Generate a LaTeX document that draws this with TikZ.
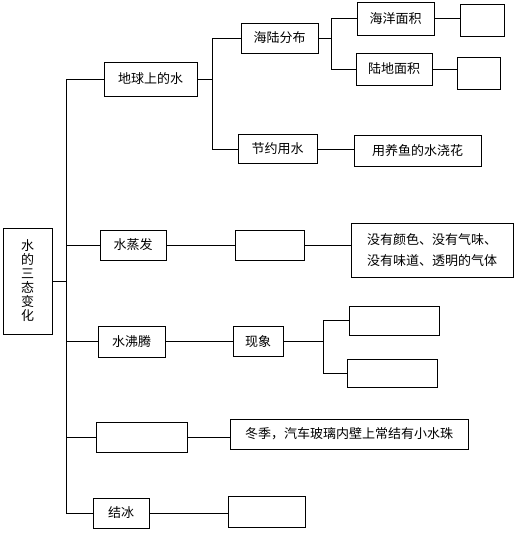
\documentclass[tikz,border=0pt]{standalone}
\usepackage{fontspec}
\setmainfont{Noto Sans CJK SC}
\begin{document}
\begin{tikzpicture}[x=1pt,y=-1pt,
  box/.style={draw, line width=0.9pt, inner sep=0pt, align=center, font=\fontsize{13}{14}\selectfont},
  link/.style={line width=0.9pt}]
\useasboundingbox (0,0) rectangle (526,545);
% level 0
\node[box, minimum width=49pt, minimum height=106pt] (main) at (27.5,281) {水\\的\\三\\态\\变\\化};
% level 1
\node[box, minimum width=93pt, minimum height=34pt] (n1) at (150.5,79) {地球上的水};
\node[box, minimum width=66pt, minimum height=30pt] (zf) at (133,245) {水蒸发};
\node[box, minimum width=67pt, minimum height=31pt] (ft) at (131.5,341.5) {水沸腾};
\node[box, minimum width=91pt, minimum height=30pt] (e6) at (141.5,437) {};
\node[box, minimum width=56pt, minimum height=30pt] (jb) at (121,513) {结冰};
% branch 1
\node[box, minimum width=77pt, minimum height=30pt] (hl) at (279.5,38) {海陆分布};
\node[box, minimum width=79pt, minimum height=29pt] (jy) at (277.5,149) {节约用水};
\node[box, minimum width=77pt, minimum height=33pt] (hy) at (395.5,18.5) {海洋面积};
\node[box, minimum width=76pt, minimum height=32pt] (ld) at (394,69) {陆地面积};
\node[box, minimum width=44pt, minimum height=32pt] (e1) at (482,20) {};
\node[box, minimum width=43pt, minimum height=32pt] (e2) at (478.5,73) {};
\node[box, minimum width=127pt, minimum height=31pt] (yy) at (417.5,150.5) {用养鱼的水浇花};
% branch 2
\node[box, minimum width=69pt, minimum height=30pt] (e3) at (269.5,245) {};
\node[box, minimum width=162pt, minimum height=54pt, align=left, font=\fontsize{13}{21}\selectfont] (ds) at (432,250) {没有颜色、没有气味、\\没有味道、透明的气体};
% branch 3
\node[box, minimum width=50pt, minimum height=30pt] (xx) at (258,341.5) {现象};
\node[box, minimum width=90pt, minimum height=29pt] (e4) at (394,320.5) {};
\node[box, minimum width=90pt, minimum height=28pt] (e5) at (392,373) {};
% branch 4
\node[box, minimum width=238pt, minimum height=30pt] (dj) at (349,434) {冬季，汽车玻璃内壁上常结有小水珠};
% branch 5
\node[box, minimum width=77pt, minimum height=31pt] (e7) at (266.5,511.5) {};
% trunks
\coordinate (T) at (66,281);
\coordinate (S1) at (212,79);
\coordinate (S2) at (331,38);
\coordinate (S3) at (323,341.5);
\draw[link] (main.east) -- (T);
\draw[link] (n1.west) -| (T);
\draw[link] (zf.west) -| (T);
\draw[link] (ft.west) -| (T);
\draw[link] (e6.west) -| (T);
\draw[link] (jb.west) -| (T);
\draw[link] (n1.east) -- (S1);
\draw[link] (hl.west) -| (S1);
\draw[link] (jy.west) -| (S1);
\draw[link] (hl.east) -- (S2);
\draw[link] (hy.west) -| (S2);
\draw[link] (ld.west) -| (S2);
\draw[link] (hy.east) -- (hy.east -| e1.west);
\draw[link] (ld.east) -- (ld.east -| e2.west);
\draw[link] (jy.east) -- (jy.east -| yy.west);
\draw[link] (zf.east) -- (e3.west);
\draw[link] (e3.east) -- (e3.east -| ds.west);
\draw[link] (ft.east) -- (xx.west);
\draw[link] (xx.east) -- (S3);
\draw[link] (e4.west) -| (S3);
\draw[link] (e5.west) -| (S3);
\draw[link] (e6.east) -- (e6.east -| dj.west);
\draw[link] (jb.east) -- (jb.east -| e7.west);
\end{tikzpicture}
\end{document}
